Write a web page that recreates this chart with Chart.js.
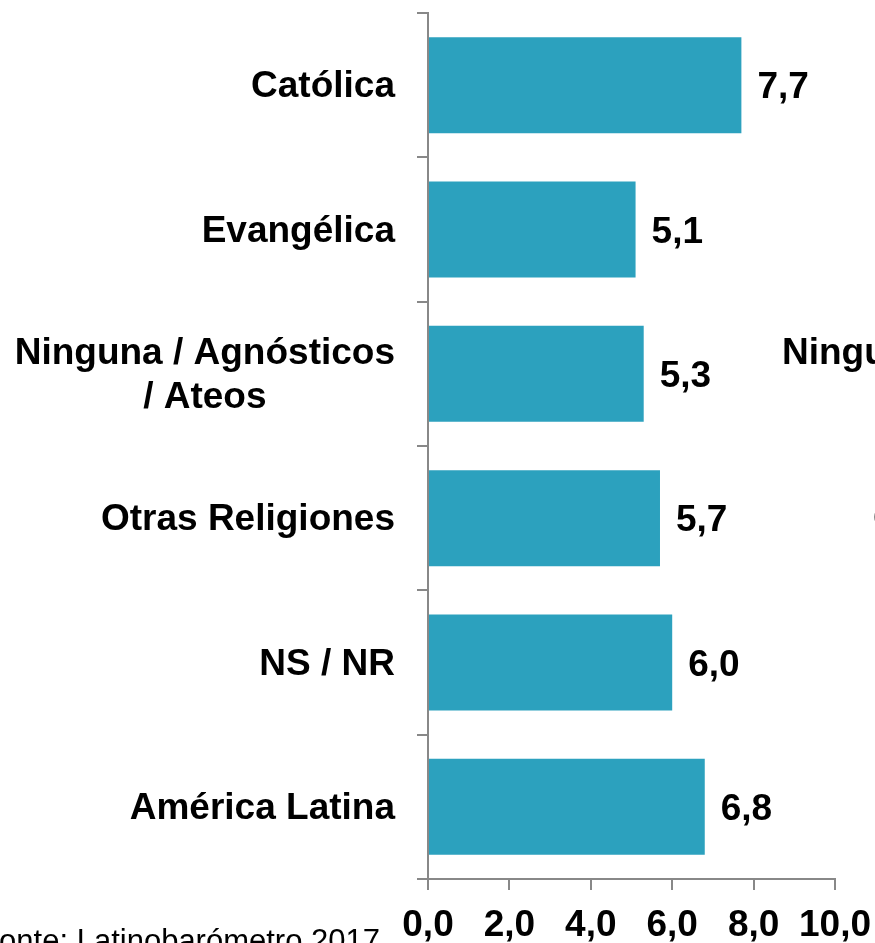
<!DOCTYPE html>
<html>
<head>
<meta charset="utf-8">
<script src="https://cdn.jsdelivr.net/npm/chart.js@4"></script>
<style>
  body { margin: 0; background: #fff; }
</style>
</head>
<body>
<canvas id="myChart" width="875" height="943"></canvas>
<script>
const categories = ['Católica', 'Evangélica', ['Ninguna / Agnósticos', '/ Ateos'], 'Otras Religiones', 'NS / NR', 'América Latina'];
const values = [7.7, 5.1, 5.3, 5.7, 6.0, 6.8];
const xTickValues = [0, 2, 4, 6, 8, 10];
const sourceText = 'Fonte: Latinobarómetro 2017';

const FONT = "'Liberation Sans', Arial, sans-serif";
const fmt = v => v.toFixed(1).replace('.', ',');

// category labels drawn by hand so the two-line one can be centred under itself
const labelPlugin = {
  id: 'labels',
  afterDraw(chart) {
    const ctx = chart.ctx;
    const y = chart.scales.y;
    ctx.save();
    ctx.fillStyle = '#000';
    ctx.font = 'bold 37px ' + FONT;
    ctx.textBaseline = 'middle';
    ctx.textAlign = 'center';
    categories.forEach((lab, i) => {
      const lines = Array.isArray(lab) ? lab : [lab];
      const w = Math.max(...lines.map(l => ctx.measureText(l).width));
      const cx = 395 - w / 2;
      const yc = y.getPixelForValue(i) + 2;
      const lh = 44;
      lines.forEach((l, k) => {
        ctx.fillText(l, cx, yc + (k - (lines.length - 1) / 2) * lh);
      });
    });

    // value labels at bar ends
    ctx.textAlign = 'left';
    chart.getDatasetMeta(0).data.forEach((bar, i) => {
      ctx.fillText(fmt(values[i]), bar.x + 16, bar.y + 3);
    });

    // pieces of the neighbouring chart that show at the right edge
    ctx.fillText(categories[2][0], 782, y.getPixelForValue(2) - 20);
    ctx.fillText(categories[3], 873, y.getPixelForValue(3) + 2);

    // source note, cut by the left and bottom edges
    ctx.font = '31px ' + FONT;
    ctx.textBaseline = 'alphabetic';
    const full = ctx.measureText(sourceText).width;
    ctx.fillText(sourceText, 380 - full, 951);
    ctx.restore();
  }
};

const data = {
  labels: categories,
  datasets: [{
    data: values,
    backgroundColor: '#2CA1BE',
    barPercentage: 0.665,
    categoryPercentage: 1
  }]
};

const config = {
  type: 'bar',
  data,
  options: {
    indexAxis: 'y',
    responsive: false,
    animation: false,
    layout: { padding: { top: 13, right: 40, left: 0, bottom: 0 } },
    plugins: { legend: { display: false }, tooltip: { enabled: false } },
    scales: {
      x: {
        min: 0,
        max: 10,
        afterBuildTicks(scale) {
          scale.ticks = xTickValues.map(v => ({ value: v }));
        },
        ticks: {
          callback: v => fmt(v),
          color: '#000',
          font: { family: FONT, size: 37, weight: 'bold' },
          padding: 14,
          maxRotation: 0,
          autoSkip: false
        },
        grid: { drawOnChartArea: false, tickLength: 11, color: '#888', lineWidth: 2 },
        border: { color: '#888', width: 2 },
        afterFit(scale) {
          scale.height = 64;
          scale.paddingLeft = 0;
          scale.paddingRight = 0;
        }
      },
      y: {
        ticks: { display: false },
        grid: { drawOnChartArea: false, tickLength: 11, color: '#888', lineWidth: 2, offset: true },
        border: { color: '#888', width: 2 },
        afterFit(scale) { scale.width = 428; }
      }
    }
  },
  plugins: [labelPlugin]
};

const myChart = new Chart(
  document.getElementById('myChart'),
  config
);
</script>
</body>
</html>
